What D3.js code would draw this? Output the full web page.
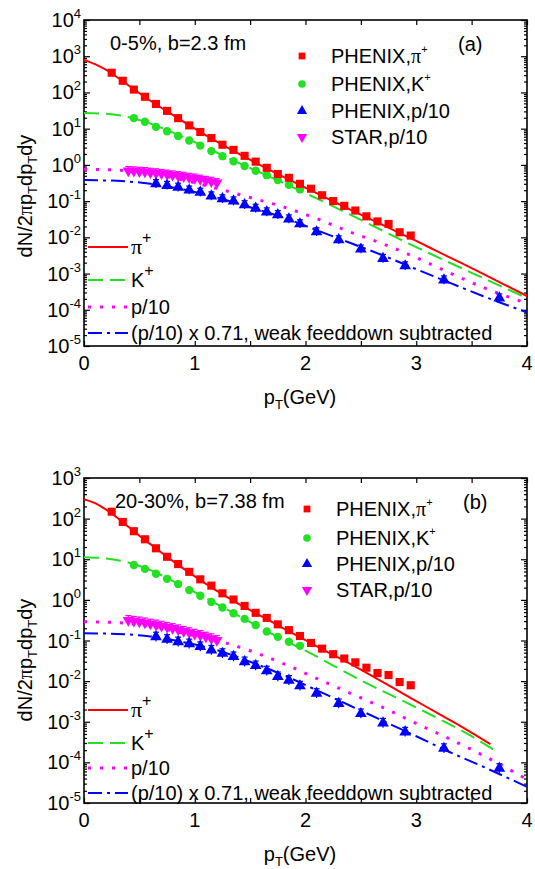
<!DOCTYPE html>
<html lang="en">
<head>
<meta charset="UTF-8"/>
<title>Identified hadron pT spectra</title>
<script src="https://d3js.org/d3.v7.min.js"></script>
<style>
    html, body {
        margin: 0;
        padding: 0;
        background: #fff;
    }
    svg text {
        font-family: "Liberation Sans", Arial, sans-serif;
        fill: #000;
    }
</style>
</head>
<body>
<div id="chart"></div>
<script>
// ---- data points (pT in GeV) ----
var ptPi   = [0.25,0.35,0.45,0.55,0.65,0.75,0.85,0.95,1.05,1.15,1.25,1.35,1.45,1.55,1.65,1.75,1.85,1.95,2.05,2.15,2.25,2.35,2.45,2.55,2.65,2.75,2.85,2.95];
var ptK    = [0.45,0.55,0.65,0.75,0.85,0.95,1.05,1.15,1.25,1.35,1.45,1.55,1.65,1.75,1.85,1.95];
var ptP    = [0.65,0.75,0.85,0.95,1.05,1.15,1.25,1.35,1.45,1.55,1.65,1.75,1.85,1.95,2.1,2.3,2.5,2.7,2.9,3.25,3.75];
var ptStar = [0.4,0.45,0.5,0.55,0.6,0.65,0.7,0.75,0.8,0.85,0.9,0.95,1.0,1.05,1.1,1.15,1.2];

// panel (a) 0-5%
var piA   = [350,210,120,76,48,31,19.5,12.3,8.1,5.5,3.6,2.6,1.78,1.23,0.83,0.56,0.44,0.30,0.22,0.145,0.10,0.074,0.055,0.038,0.0275,0.0234,0.0138,0.0112];
var kA    = [19.5,15.5,11.2,8.5,6.3,4.7,3.4,2.4,1.74,1.26,0.93,0.69,0.52,0.38,0.28,0.21];
var pA    = [0.30,0.27,0.24,0.20,0.174,0.138,0.115,0.100,0.079,0.063,0.050,0.042,0.032,0.0234,0.0141,0.0085,0.0047,0.0026,0.00162,6.6e-4,2.1e-4];
var starA = [0.69,0.68,0.66,0.65,0.62,0.60,0.575,0.55,0.525,0.50,0.48,0.45,0.43,0.40,0.37,0.35,0.32];

// panel (b) 20-30%
var piB   = [148,83,49,31,18.6,11.5,7.6,4.9,3.2,2.24,1.45,1.02,0.71,0.48,0.36,0.25,0.18,0.129,0.087,0.063,0.046,0.036,0.029,0.0214,0.0158,0.0141,0.0095,0.0079];
var kB    = [7.2,5.8,4.4,3.3,2.45,1.74,1.26,0.89,0.65,0.47,0.34,0.24,0.166,0.123,0.093,0.074];
var pB    = [0.123,0.107,0.093,0.083,0.071,0.058,0.048,0.040,0.030,0.024,0.0178,0.0129,0.0105,0.0076,0.0050,0.0028,0.00158,9.3e-4,5.6e-4,2.2e-4,7.1e-5];
var starB = [0.316,0.30,0.29,0.275,0.257,0.245,0.229,0.214,0.20,0.186,0.17,0.158,0.145,0.135,0.123,0.112,0.102];

// ---- model curves ----
var ptPiCurveA = [0,0.1,0.2,0.3,0.4,0.5,0.6,0.8,1.0,1.2,1.4,1.6,1.8,2.0,2.2,2.4,2.6,2.8,3.0,3.2,3.4,3.6,3.8,4.0];
var piCurveA   = [794,603,417,263,158,95.5,58.9,24.0,10.0,4.37,2.0,0.955,0.468,0.234,0.117,0.0589,0.0302,0.0155,7.94e-3,3.98e-3,2.0e-3,1.0e-3,4.9e-4,2.4e-4];
var ptPiCurveB = [0,0.1,0.2,0.3,0.4,0.5,0.6,0.8,1.0,1.2,1.4,1.6,1.8,2.0,2.2,2.4,2.6,2.8,3.0,3.2,3.4,3.67];
var piCurveB   = [302,240,166,105,63,38,23.4,9.1,3.8,1.66,0.79,0.40,0.20,0.102,0.052,0.0269,0.0135,6.6e-3,3.24e-3,1.58e-3,7.8e-4,2.8e-4];

var ptKCurveA = [0,0.2,0.4,0.6,0.8,1.0,1.2,1.4,1.6,1.8,2.0,2.5,3.0,3.5,4.0];
var kCurveA   = [26.9,25.7,20.9,13.8,7.9,4.27,2.19,1.12,0.60,0.316,0.166,0.0302,5.37e-3,1.05e-3,2.1e-4];
var ptKCurveB = [0,0.2,0.4,0.6,0.8,1.0,1.2,1.4,1.6,1.8,2.0,2.5,3.0,3.5,3.72];
var kCurveB   = [11.2,10.5,8.3,5.4,2.95,1.55,0.79,0.40,0.20,0.105,0.056,0.0105,2.24e-3,4.4e-4,1.9e-4];

var ptPCurve  = [0,0.3,0.6,0.9,1.2,1.5,1.8,2.1,2.4,2.7,3.0,3.3,3.6,4.0];
var pCurveA   = [0.76,0.72,0.575,0.38,0.224,0.126,0.069,0.033,0.0141,6.6e-3,2.75e-3,1.05e-3,4.2e-4,1.5e-4];
var pFdCurveA = [0.38,0.363,0.30,0.209,0.126,0.0676,0.0355,0.0158,7.08e-3,3.16e-3,1.32e-3,5.6e-4,2.4e-4,8.5e-5];
var pCurveB   = [0.29,0.275,0.22,0.151,0.10,0.056,0.0269,0.0117,5.1e-3,2.24e-3,9.1e-4,3.8e-4,1.5e-4,3.8e-5];
var pFdCurveB = [0.151,0.145,0.126,0.091,0.058,0.030,0.0141,6.0e-3,2.51e-3,1.05e-3,4.4e-4,1.8e-4,7.9e-5,2.5e-5];

// ---- axis ticks ----
var xLabels = [0,1,2,3,4];
var xMinor  = [0.5,1.5,2.5,3.5];
var yExpA   = [-5,-4,-3,-2,-1,0,1,2,3,4];
var yExpB   = [-5,-4,-3,-2,-1,0,1,2,3];

var RED = "#ff0000", GREEN = "#22e022", BLUE = "#0000ff", MAG = "#ff00ff";

var W = 535, H = 869;
var svg = d3.select("#chart").append("svg").attr("width", W).attr("height", H);

function drawPanel(p) {
    var x = d3.scaleLinear().domain([0, 4]).range([84, 527]);
    var y = d3.scaleLog().domain([Math.pow(10, p.yExp[0]), Math.pow(10, p.yExp[p.yExp.length - 1])])
              .range([p.bottom, p.top]);
    var g = svg.append("g");

    var clipId = "clip" + p.id;
    svg.append("clipPath").attr("id", clipId).append("rect")
        .attr("x", 84).attr("y", p.top).attr("width", 443).attr("height", p.bottom - p.top);

    // minor log ticks
    var minor = [];
    p.yExp.slice(0, -1).forEach(function(e) {
        for (var k = 2; k <= 9; k++) minor.push(k * Math.pow(10, e));
    });
    var major = p.yExp.map(function(e) { return Math.pow(10, e); });

    function ax(gen, tr, vals, size) {
        g.append("g").attr("transform", tr)
            .call(gen.tickValues(vals).tickSize(size).tickSizeOuter(0).tickFormat(""))
            .call(function(s) { s.select(".domain").remove(); s.selectAll("line").attr("stroke-width", 1.2); });
    }
    ax(d3.axisLeft(y),   "translate(84,0)",  major, -6);
    ax(d3.axisLeft(y),   "translate(84,0)",  minor, -3);
    ax(d3.axisRight(y),  "translate(527,0)", major, -6);
    ax(d3.axisRight(y),  "translate(527,0)", minor, -3);
    ax(d3.axisBottom(x), "translate(0," + p.bottom + ")", xLabels.concat(xMinor), -5);
    ax(d3.axisTop(x),    "translate(0," + p.top + ")",    xLabels.concat(xMinor), -5);

    g.append("rect").attr("x", 84).attr("y", p.top).attr("width", 443).attr("height", p.bottom - p.top)
        .attr("fill", "none").attr("stroke", "#000").attr("stroke-width", 1.6);

    // y tick labels 10^n
    p.yExp.forEach(function(e) {
        var t = g.append("text").attr("x", 81).attr("y", y(Math.pow(10, e)) + 7)
            .attr("text-anchor", "end").attr("font-size", 20);
        t.append("tspan").text("10");
        t.append("tspan").attr("font-size", 13).attr("dy", -9).text(e);
    });
    xLabels.forEach(function(v) {
        g.append("text").attr("x", x(v)).attr("y", p.bottom + 24)
            .attr("text-anchor", "middle").attr("font-size", 20).text(v);
    });

    // axis titles
    var xt = g.append("text").attr("x", 300).attr("y", p.bottom + 58)
        .attr("text-anchor", "middle").attr("font-size", 20);
    xt.append("tspan").text("p");
    xt.append("tspan").attr("font-size", 13).attr("dy", 5).text("T");
    xt.append("tspan").attr("dy", -5).text("(GeV)");

    var yt = g.append("text").attr("transform", "translate(32," + p.titleY + ") rotate(-90)")
        .attr("text-anchor", "middle").attr("font-size", 20);
    yt.append("tspan").text("dN/2");
    yt.append("tspan").style("font-family", "'Liberation Serif', serif").text("\u03c0");
    yt.append("tspan").text("p");
    yt.append("tspan").attr("font-size", 13).attr("dy", 5).text("T");
    yt.append("tspan").attr("dy", -5).text("dp");
    yt.append("tspan").attr("font-size", 13).attr("dy", 5).text("T");
    yt.append("tspan").attr("dy", -5).text("dy");

    // curves
    var line = d3.line().x(function(d) { return x(d[0]); }).y(function(d) { return y(d[1]); })
        .curve(d3.curveMonotoneX);
    var curves = [
        { pts: d3.zip(p.ptPiC, p.piC), color: RED,   dash: null },
        { pts: d3.zip(p.ptKC, p.kC),   color: GREEN, dash: "15,7" },
        { pts: d3.zip(ptPCurve, p.pC), color: MAG,   dash: "3,9", w: 3 },
        { pts: d3.zip(ptPCurve, p.fdC), color: BLUE, dash: "14,5,3,5" }
    ];
    var cg = g.append("g").attr("clip-path", "url(#" + clipId + ")");
    curves.forEach(function(c) {
        cg.append("path").attr("d", line(c.pts)).attr("fill", "none")
            .attr("stroke", c.color).attr("stroke-width", c.w || 2)
            .attr("stroke-dasharray", c.dash);
    });

    // data markers
    var sym = d3.symbol();
    function errBars(pts, vals, color) {
        g.append("g").selectAll("g").data(d3.zip(pts, vals)).enter().append("g")
            .each(function(d) {
                var s = d3.select(this);
                s.append("line").attr("x1", x(d[0])).attr("x2", x(d[0]))
                    .attr("y1", y(d[1] * 1.3)).attr("y2", y(d[1] / 1.3))
                    .attr("stroke", color).attr("stroke-width", 1.2);
                s.append("line").attr("x1", x(d[0]) - 3).attr("x2", x(d[0]) + 3)
                    .attr("y1", y(d[1] * 1.3)).attr("y2", y(d[1] * 1.3))
                    .attr("stroke", color).attr("stroke-width", 1.2);
            });
    }
    function markers(pts, vals, type, size, color, rot) {
        g.append("g").selectAll("path").data(d3.zip(pts, vals)).enter().append("path")
            .attr("d", sym.type(type).size(size)())
            .attr("transform", function(d) {
                return "translate(" + x(d[0]) + "," + y(d[1]) + ")" + (rot ? " rotate(180)" : "");
            })
            .attr("fill", color);
    }
    errBars(ptStar, p.star, MAG);
    errBars(ptP, p.p, BLUE);
    markers(ptStar, p.star, d3.symbolTriangle, 55, MAG, true);
    markers(ptP, p.p, d3.symbolTriangle, 60, BLUE, false);
    markers(ptK, p.k, d3.symbolCircle, 55, GREEN, false);
    markers(ptPi, p.pi, d3.symbolSquare, 66, RED, false);

    // annotation
    g.append("text").attr("x", p.annX).attr("y", p.top + 30).attr("font-size", 20).text(p.label);
    g.append("text").attr("x", p.tagX).attr("y", p.top + 31).attr("font-size", 20).text(p.tag);

    // symbol legend
    var sl = [
        { name: "PHENIX,", sup: "+", pi: true, type: d3.symbolSquare, size: 46, color: RED },
        { name: "PHENIX,K", sup: "+", type: d3.symbolCircle, size: 46, color: GREEN },
        { name: "PHENIX,p/10", type: d3.symbolTriangle, size: 46, color: BLUE },
        { name: "STAR,p/10", type: d3.symbolTriangle, size: 46, color: MAG, rot: true }
    ];
    sl.forEach(function(it, i) {
        var yy = p.top + p.symRows[i];
        g.append("path").attr("d", sym.type(it.type).size(it.size)())
            .attr("transform", "translate(" + p.symX + "," + yy + ")" + (it.rot ? " rotate(180)" : ""))
            .attr("fill", it.color);
        var t = g.append("text").attr("x", p.symX + 29).attr("y", yy + 7).attr("font-size", 20);
        t.append("tspan").text(it.name);
        if (it.pi) t.append("tspan").style("font-family", "'Liberation Serif', serif").text("\u03c0");
        if (it.sup) t.append("tspan").attr("font-size", 11).attr("dy", -10).text(it.sup);
    });

    // line legend
    var ll = [
        { color: RED, dash: null, pi: true },
        { color: GREEN, dash: "15,7", text: "K", sup: "+" },
        { color: MAG, dash: "3,9", w: 3, text: "p/10" },
        { color: BLUE, dash: "14,5,3,5", text: "(p/10) x 0.71, weak feeddown subtracted" }
    ];
    ll.forEach(function(it, i) {
        var yy = p.lineRows[i];
        g.append("line").attr("x1", 88).attr("x2", 128).attr("y1", yy).attr("y2", yy)
            .attr("stroke", it.color).attr("stroke-width", it.w || 2).attr("stroke-dasharray", it.dash);
        var t = g.append("text").attr("x", 131).attr("y", yy + 7).attr("font-size", 20);
        if (it.pi) {
            t.append("tspan").style("font-family", "'Liberation Serif', serif").attr("font-size", 22).text("\u03c0");
            t.append("tspan").attr("font-size", 16).attr("dy", -11).text("+");
        } else {
            t.append("tspan").text(it.text);
            if (it.sup) t.append("tspan").attr("font-size", 16).attr("dy", -11).text(it.sup);
        }
    });
}

drawPanel({
    id: "a", top: 20, bottom: 346, yExp: yExpA, titleY: 196,
    pi: piA, k: kA, p: pA, star: starA,
    ptPiC: ptPiCurveA, piC: piCurveA, ptKC: ptKCurveA, kC: kCurveA, pC: pCurveA, fdC: pFdCurveA,
    label: "0-5%, b=2.3 fm", annX: 110, tag: "(a)", tagX: 458,
    symX: 302, symRows: [36, 64, 91, 117],
    lineRows: [247, 280, 307, 333]
});

drawPanel({
    id: "b", top: 478, bottom: 803, yExp: yExpB, titleY: 660,
    pi: piB, k: kB, p: pB, star: starB,
    ptPiC: ptPiCurveB, piC: piCurveB, ptKC: ptKCurveB, kC: kCurveB, pC: pCurveB, fdC: pFdCurveB,
    label: "20-30%, b=7.38 fm", annX: 115, tag: "(b)", tagX: 463,
    symX: 307, symRows: [31, 60, 86, 112],
    lineRows: [710, 743, 768, 793]
});
</script>
</body>
</html>
